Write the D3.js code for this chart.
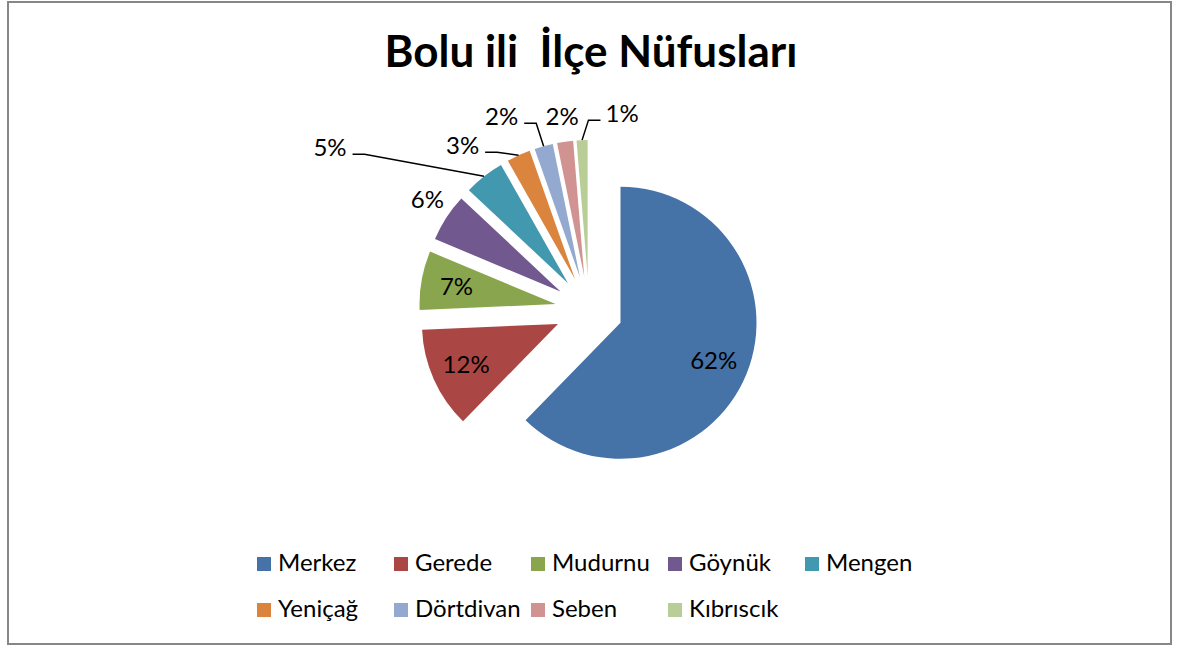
<!DOCTYPE html>
<html>
<head>
<meta charset="utf-8">
<script src="https://cdn.jsdelivr.net/npm/d3@7"></script>
<style>
  body { margin: 0; background: #fff; }
  svg text { font-family: Lato, "Open Sans", sans-serif; fill: #000; }
</style>
</head>
<body>
<div id="chart"></div>
<script>
// DATA

const chartTitle = "Bolu ili  İlçe Nüfusları";
const districts = ["Merkez", "Gerede", "Mudurnu", "Göynük", "Mengen", "Yeniçağ", "Dörtdivan", "Seben", "Kıbrıscık"];
const shares = [62.3, 12.0, 7.0, 5.7, 4.8, 2.8, 2.2, 1.9, 1.3];
const sliceColors = ["#4572A7", "#AA4643", "#89A54E", "#71588F", "#4198AF", "#DB843D", "#93A9CF", "#D19392", "#B9CD96"];

// label nudges for the small outside labels (px, from the middle of the slice's arc)
const outsideNudge = {
  "Göynük":    [-19, -18],
  "Mengen":    [-154, -29],
  "Yeniçağ":   [-56, -10],
  "Dörtdivan": [-42, -30],
  "Seben":     [-3, -25],
  "Kıbrıscık": [40, -27]
};

const width = 1180;
const height = 647;

const cx = 589;
const cy = 310;
const radius = 136;
const explode = 34;

const svg = d3.select("#chart").append("svg")
  .attr("width", width)
  .attr("height", height);

// FRAME

svg.append("rect")
  .attr("x", 8)
  .attr("y", 2)
  .attr("width", 1163)
  .attr("height", 642)
  .attr("fill", "#fff")
  .attr("stroke", "#878787")
  .attr("stroke-width", 2);

// TITLE

svg.append("text")
  .attr("x", cx + 2)
  .attr("y", 67)
  .attr("text-anchor", "middle")
  .style("font-weight", "bold")
  .style("font-size", "44px")
  .style("white-space", "pre")
  .text(chartTitle);

// PIE

const total = d3.sum(shares);
const rows = districts.map((d, i) => ({name: d, value: shares[i], color: sliceColors[i]}));

const pie = d3.pie()
  .sort(null)
  .value(d => d.value);

const arc = d3.arc()
  .innerRadius(0)
  .outerRadius(radius);

const innerLabelArc = d3.arc()
  .innerRadius(radius * 0.74)
  .outerRadius(radius * 0.74);

const rimArc = d3.arc()
  .innerRadius(radius)
  .outerRadius(radius);

const arcs = pie(rows);

function shift(d) {
  let mid = (d.startAngle + d.endAngle) / 2;
  return [explode * Math.sin(mid), -explode * Math.cos(mid)];
}

const pieGroup = svg.append("g")
  .attr("transform", "translate(" + cx + "," + cy + ")");

pieGroup.selectAll("path.slice")
  .data(arcs)
  .enter()
  .append("path")
  .attr("class", "slice")
  .attr("d", arc)
  .attr("fill", d => d.data.color)
  .attr("transform", d => "translate(" + shift(d) + ")");

// LABELS

const pct = d => Math.round(d.data.value / total * 100) + "%";
const isInside = d => (d.endAngle - d.startAngle) > 0.4;

arcs.forEach(d => {
  let s = shift(d);
  if(isInside(d))
  {
    let c = innerLabelArc.centroid(d);
    pieGroup.append("text")
      .attr("x", c[0] + s[0])
      .attr("y", c[1] + s[1])
      .attr("dy", "0.35em")
      .attr("text-anchor", "middle")
      .style("font-size", "24px")
      .text(pct(d));
    return;
  }

  let rim = rimArc.centroid(d);
  let ax = rim[0] + s[0];
  let ay = rim[1] + s[1];
  let n = outsideNudge[d.data.name] || [0, -20];
  let lx = ax + n[0];
  let ly = ay + n[1];

  let label = pieGroup.append("text")
    .attr("x", lx)
    .attr("y", ly)
    .attr("dy", "0.35em")
    .attr("text-anchor", "middle")
    .style("font-size", "24px")
    .text(pct(d));

  // leader line only when the label sits away from its slice
  if(Math.hypot(n[0], n[1]) < 35) return;

  let box = label.node().getBBox();
  let lineY = ly + 7;
  let x0, x1;
  if(lx < ax)
  {
    x0 = box.x + box.width + 6;
    x1 = x0 + 12;
  }
  else
  {
    x0 = box.x - 5;
    x1 = x0 - 12;
  }

  pieGroup.append("path")
    .attr("d", d3.line()([[x0, lineY], [x1, lineY], [ax, ay]]))
    .attr("fill", "none")
    .attr("stroke", "#000")
    .attr("stroke-width", 1.5);
});

// LEGEND

const legendX0 = 257;
const legendY0 = 557;
const colStep = 137;
const rowStep = 46;
const perRow = 5;

const legend = svg.append("g");

const items = legend.selectAll("g.item")
  .data(rows)
  .enter()
  .append("g")
  .attr("class", "item")
  .attr("transform", (d, i) => "translate(" + (legendX0 + (i % perRow) * colStep) + "," + (legendY0 + Math.floor(i / perRow) * rowStep) + ")");

items.append("rect")
  .attr("width", 14)
  .attr("height", 14)
  .attr("fill", d => d.color);

items.append("text")
  .attr("x", 21)
  .attr("y", 14)
  .style("font-size", "24px")
  .text(d => d.name);
</script>
</body>
</html>
